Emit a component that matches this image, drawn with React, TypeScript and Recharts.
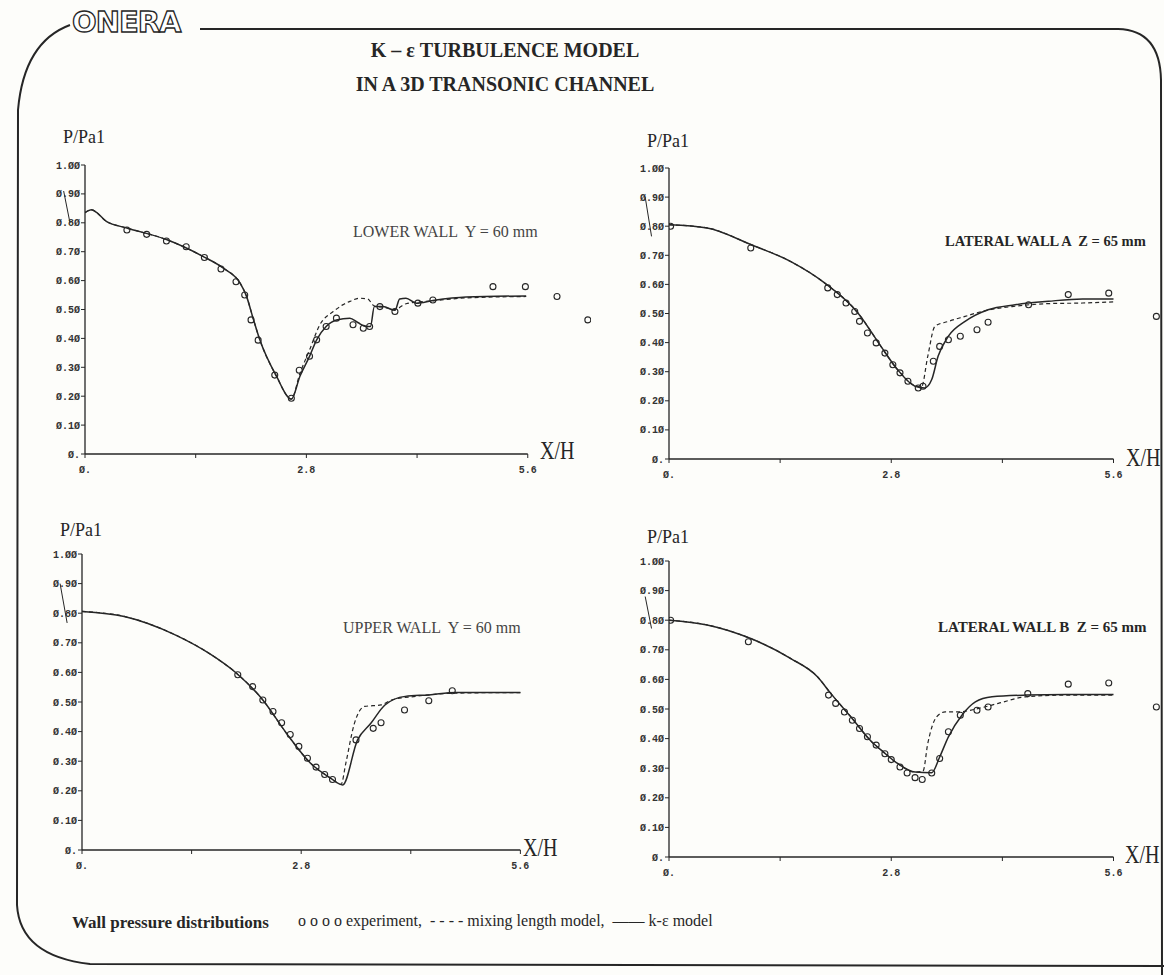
import React from "react";
import { ComposedChart, Line, Scatter, XAxis, YAxis, ReferenceLine } from "recharts";

type Pt = { x: number; p: number };
const pts = (a: number[][]): Pt[] => a.map(([x, p]) => ({ x, p }));

// tick values
const yTicks = [0, 0.1, 0.2, 0.3, 0.4, 0.5, 0.6, 0.7, 0.8, 0.9, 1.0];
const xTicks = [0, 1.4, 2.8, 4.2, 5.6];
const xTickLabels: Record<string, string> = { "0": "Ø.", "2.8": "2.8", "5.6": "5.6" };

// LOWER WALL Y = 60 mm
const lowerKe = pts([
  [0, 0.835], [0.08, 0.845], [0.15, 0.835], [0.27, 0.805], [0.53, 0.782], [1.03, 0.742],
  [1.49, 0.684], [1.75, 0.643], [1.96, 0.592], [2.04, 0.548], [2.13, 0.466], [2.21, 0.396],
  [2.42, 0.27], [2.61, 0.19], [2.72, 0.27], [2.84, 0.338], [2.93, 0.395], [3.05, 0.441],
  [3.18, 0.464], [3.35, 0.47], [3.45, 0.455], [3.56, 0.441], [3.61, 0.441], [3.66, 0.51],
  [3.77, 0.51], [3.92, 0.497], [3.98, 0.536], [4.06, 0.539], [4.19, 0.522], [4.4, 0.531],
  [4.82, 0.543], [5.58, 0.547],
]);
const lowerMix = pts([
  [0, 0.835], [0.08, 0.845], [0.27, 0.805], [0.53, 0.782], [1.03, 0.742], [1.49, 0.684],
  [1.75, 0.643], [1.96, 0.592], [2.04, 0.548], [2.13, 0.466], [2.21, 0.396], [2.42, 0.27],
  [2.61, 0.19], [2.72, 0.28], [2.84, 0.36], [2.97, 0.447], [3.14, 0.493], [3.26, 0.516],
  [3.35, 0.528], [3.47, 0.539], [3.58, 0.536], [3.64, 0.516], [3.68, 0.51], [3.77, 0.508],
  [3.92, 0.5], [4.06, 0.52], [4.4, 0.53], [4.82, 0.54], [5.58, 0.545],
]);
const lowerExp = pts([
  [0.53, 0.775], [0.78, 0.76], [1.03, 0.737], [1.28, 0.717], [1.51, 0.68], [1.72, 0.64],
  [1.91, 0.596], [2.02, 0.55], [2.1, 0.464], [2.19, 0.394], [2.4, 0.273], [2.61, 0.193],
  [2.71, 0.29], [2.84, 0.338], [2.93, 0.395], [3.05, 0.441], [3.18, 0.47], [3.39, 0.447],
  [3.52, 0.435], [3.6, 0.441], [3.73, 0.51], [3.92, 0.493], [4.21, 0.522], [4.4, 0.533],
  [5.16, 0.579], [5.57, 0.579], [5.97, 0.545], [6.36, 0.464],
]);

// LATERAL WALL A Z = 65 mm
const latAKe = pts([
  [0, 0.805], [0.48, 0.794], [1.03, 0.737], [1.53, 0.679], [1.96, 0.605], [2.38, 0.502],
  [2.67, 0.387], [2.88, 0.307], [3.1, 0.25], [3.22, 0.244], [3.31, 0.273], [3.39, 0.353],
  [3.52, 0.422], [3.73, 0.473], [4.02, 0.513], [4.36, 0.53], [4.78, 0.542], [5.21, 0.55],
  [5.6, 0.55],
]);
const latAMix = pts([
  [0, 0.805], [0.48, 0.794], [1.03, 0.737], [1.53, 0.679], [1.96, 0.605], [2.38, 0.502],
  [2.67, 0.387], [2.88, 0.307], [3.1, 0.252], [3.18, 0.247], [3.26, 0.353], [3.35, 0.456],
  [3.52, 0.473], [3.73, 0.49], [3.94, 0.507], [4.36, 0.525], [4.78, 0.534], [5.21, 0.536],
  [5.6, 0.54],
]);
const latAExp = pts([
  [0.02, 0.8], [1.03, 0.725], [2.0, 0.588], [2.12, 0.565], [2.23, 0.536], [2.34, 0.507],
  [2.4, 0.473], [2.5, 0.433], [2.61, 0.399], [2.72, 0.364], [2.82, 0.324], [2.91, 0.296],
  [3.01, 0.267], [3.14, 0.244], [3.2, 0.25], [3.33, 0.336], [3.41, 0.387], [3.52, 0.41],
  [3.67, 0.422], [3.88, 0.444], [4.02, 0.47], [4.53, 0.53], [5.03, 0.565], [5.54, 0.57],
  [6.14, 0.49],
]);

// UPPER WALL Y = 60 mm
const upperKe = pts([
  [0, 0.806], [0.54, 0.789], [1.19, 0.727], [1.62, 0.665], [1.97, 0.598], [2.31, 0.507],
  [2.61, 0.395], [2.92, 0.293], [3.18, 0.242], [3.33, 0.22], [3.52, 0.372], [3.69, 0.428],
  [3.87, 0.49], [4.13, 0.519], [4.43, 0.524], [4.78, 0.532], [5.6, 0.532],
]);
const upperMix = pts([
  [0, 0.806], [0.54, 0.789], [1.19, 0.727], [1.62, 0.665], [1.97, 0.598], [2.31, 0.507],
  [2.61, 0.395], [2.92, 0.293], [3.18, 0.242], [3.31, 0.222], [3.37, 0.293], [3.48, 0.428],
  [3.61, 0.485], [3.82, 0.49], [3.96, 0.507], [4.26, 0.519], [4.78, 0.53], [5.6, 0.532],
]);
const upperExp = pts([
  [1.99, 0.592], [2.18, 0.552], [2.31, 0.507], [2.44, 0.468], [2.55, 0.43], [2.66, 0.39],
  [2.77, 0.35], [2.88, 0.31], [2.99, 0.28], [3.1, 0.255], [3.2, 0.238], [3.5, 0.372],
  [3.72, 0.411], [3.82, 0.43], [4.12, 0.473], [4.43, 0.504], [4.73, 0.538],
]);

// LATERAL WALL B Z = 65 mm
const latBKe = pts([
  [0, 0.8], [0.48, 0.784], [1.03, 0.738], [1.53, 0.671], [1.87, 0.609], [2.04, 0.552],
  [2.29, 0.474], [2.55, 0.39], [2.7, 0.355], [2.88, 0.316], [3.1, 0.287], [3.31, 0.285],
  [3.41, 0.338], [3.52, 0.406], [3.69, 0.479], [3.86, 0.524], [4.07, 0.541], [4.49, 0.547],
  [5.0, 0.549], [5.6, 0.549],
]);
const latBMix = pts([
  [0, 0.8], [0.48, 0.784], [1.03, 0.738], [1.53, 0.671], [1.87, 0.609], [2.04, 0.552],
  [2.29, 0.474], [2.55, 0.39], [2.7, 0.355], [2.88, 0.316], [3.1, 0.287], [3.2, 0.29],
  [3.26, 0.383], [3.37, 0.473], [3.48, 0.49], [3.64, 0.49], [3.9, 0.502], [4.15, 0.519],
  [4.49, 0.541], [5.0, 0.547], [5.6, 0.547],
]);
const latBExp = pts([
  [0.02, 0.8], [1.0, 0.727], [2.01, 0.547], [2.1, 0.519], [2.21, 0.49], [2.31, 0.462],
  [2.4, 0.434], [2.5, 0.406], [2.61, 0.378], [2.72, 0.349], [2.8, 0.329], [2.91, 0.304],
  [3.0, 0.284], [3.1, 0.268], [3.19, 0.262], [3.31, 0.284], [3.41, 0.333], [3.52, 0.423],
  [3.67, 0.479], [3.88, 0.496], [4.02, 0.507], [4.52, 0.552], [5.03, 0.584], [5.54, 0.588],
  [6.14, 0.507],
]);

// little pointer strokes next to the 0.90 / 0.80 labels
const lowerPointer = [{ x: -0.27, y: 0.91 }, { x: -0.19, y: 0.8 }];
const latAPointer = [{ x: -0.3, y: 0.9 }, { x: -0.22, y: 0.765 }];
const upperPointer = [{ x: -0.28, y: 0.9 }, { x: -0.19, y: 0.767 }];
const latBPointer = [{ x: -0.3, y: 0.88 }, { x: -0.22, y: 0.772 }];

const INK = "#262626";
const serif = "'Liberation Serif', 'DejaVu Serif', serif";
const plotFont = "'Liberation Mono', 'DejaVu Sans Mono', monospace";

const fmtY = (v: number) => (v === 0 ? "Ø." : v.toFixed(2).replace(/0/g, "Ø"));
const fmtX = (v: number) => xTickLabels[String(v)] ?? "";

const Ring = (props: any) => (
  <circle cx={props.cx} cy={props.cy} r={3} fill="none" stroke={INK} strokeWidth={1.1} />
);

type PanelProps = {
  left: number; top: number; width: number; height: number;
  ke: Pt[]; mix: Pt[]; exp: Pt[]; pointer: { x: number; y: number }[];
};

function Panel({ left, top, width, height, ke, mix, exp, pointer }: PanelProps) {
  return (
    <div style={{ position: "absolute", left, top }}>
      <ComposedChart width={width} height={height} margin={{ top: 10, right: 0, bottom: 0, left: 0 }}>
        <XAxis
          type="number"
          dataKey="x"
          domain={[0, 6.4]}
          allowDataOverflow
          ticks={xTicks}
          interval={0}
          tickFormatter={fmtX}
          axisLine={false}
          tickSize={4}
          tickMargin={8}
          height={30}
          tickLine={{ stroke: INK }}
          tick={{ fontSize: 10, fill: "#333", fontFamily: plotFont, fontWeight: 700 }}
        />
        <YAxis
          type="number"
          domain={[0, 1]}
          ticks={yTicks}
          interval={0}
          tickFormatter={fmtY}
          width={45}
          tickSize={4}
          tickMargin={1}
          axisLine={{ stroke: INK, strokeWidth: 1.3 }}
          tickLine={{ stroke: INK }}
          tick={{ fontSize: 10, fill: "#333", fontFamily: plotFont, fontWeight: 700 }}
        />
        <ReferenceLine segment={[{ x: 0, y: 0 }, { x: 5.6, y: 0 }]} stroke={INK} strokeWidth={1.3} ifOverflow="visible" />
        <ReferenceLine segment={pointer} stroke={INK} strokeWidth={1} ifOverflow="visible" />
        <Line data={mix} dataKey="p" type="monotone" stroke={INK} strokeWidth={1.2} strokeDasharray="4 3" dot={false} isAnimationActive={false} />
        <Line data={ke} dataKey="p" type="monotone" stroke={INK} strokeWidth={1.5} dot={false} isAnimationActive={false} />
        <Scatter data={exp} dataKey="p" shape={Ring} isAnimationActive={false} />
      </ComposedChart>
    </div>
  );
}

const txt = (left: number, top: number, size: number, extra: React.CSSProperties = {}): React.CSSProperties => ({
  position: "absolute", left, top, fontSize: size, lineHeight: 1, fontFamily: serif, color: INK,
  transform: "translateY(-50%)", whiteSpace: "pre", ...extra,
});

const xh = { transform: "translateY(-50%) scaleX(0.8)", transformOrigin: "left" } as React.CSSProperties;

export default function App() {
  return (
    <div style={{ position: "relative", width: 1164, height: 975, overflow: "hidden", background: "#fdfdfa" }}>
      <style>{"body{margin:0}"}</style>
      <svg width={1164} height={975} style={{ position: "absolute", left: 0, top: 0 }}>
        <path d="M 70 25 Q 24 42 18 110 L 17 905 Q 20 956 90 964 L 1164 966" fill="none" stroke={INK} strokeWidth={2} />
        <path d="M 200 29 L 1118 29 Q 1160 30 1161 80 L 1162 975" fill="none" stroke={INK} strokeWidth={2} />
        <text x={72} y={32} fontFamily="'DejaVu Sans', sans-serif" fontWeight={700} fontSize={29} fill="#fff" stroke={INK} strokeWidth={1.3} letterSpacing={-1}>ONERA</text>
      </svg>

      <div style={txt(0, 50, 20, { width: 1010, textAlign: "center", fontWeight: 700 })}>K – ε TURBULENCE MODEL</div>
      <div style={txt(0, 84, 20, { width: 1010, textAlign: "center", fontWeight: 700 })}>IN A 3D TRANSONIC CHANNEL</div>

      <Panel left={40} top={155} width={551} height={329} ke={lowerKe} mix={lowerMix} exp={lowerExp} pointer={lowerPointer} />
      <Panel left={624} top={158} width={553} height={331} ke={latAKe} mix={latAMix} exp={latAExp} pointer={latAPointer} />
      <Panel left={37} top={544} width={546} height={336} ke={upperKe} mix={upperMix} exp={upperExp} pointer={upperPointer} />
      <Panel left={624} top={551} width={553} height={336} ke={latBKe} mix={latBMix} exp={latBExp} pointer={latBPointer} />

      <div style={txt(63, 137, 18)}>P/Pa1</div>
      <div style={txt(647, 141, 18)}>P/Pa1</div>
      <div style={txt(60, 530, 18)}>P/Pa1</div>
      <div style={txt(647, 537, 18)}>P/Pa1</div>

      <div style={txt(353, 232, 16, { color: "#444" })}>LOWER WALL  Y = 60 mm</div>
      <div style={txt(945, 241, 14.5, { fontWeight: 700 })}>LATERAL WALL A  Z = 65 mm</div>
      <div style={txt(343, 628, 16, { color: "#444" })}>UPPER WALL  Y = 60 mm</div>
      <div style={txt(938, 627, 15, { fontWeight: 700 })}>LATERAL WALL B  Z = 65 mm</div>

      <div style={txt(540, 450, 25, xh)}>X/H</div>
      <div style={txt(1126, 457, 25, xh)}>X/H</div>
      <div style={txt(523, 847, 25, xh)}>X/H</div>
      <div style={txt(1125, 854, 25, xh)}>X/H</div>

      <div style={txt(72, 922, 17, { fontWeight: 700 })}>Wall pressure distributions</div>
      <div style={txt(298, 921, 16)}>{"o o o o experiment,  - - - - mixing length model,  —— k-ε model"}</div>
    </div>
  );
}
